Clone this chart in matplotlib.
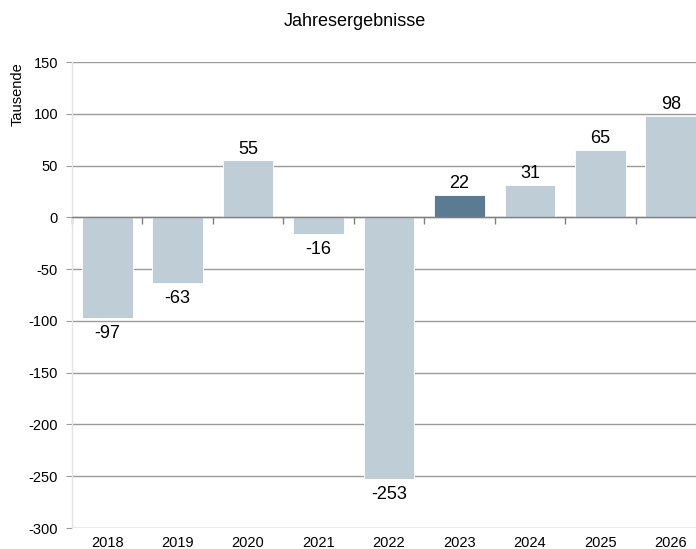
import matplotlib
matplotlib.use("Agg")
import matplotlib.pyplot as plt
import numpy as np

years = ["2018", "2019", "2020", "2021", "2022", "2023", "2024", "2025", "2026"]
values = [-97, -63, 55, -16, -253, 22, 31, 65, 98]
highlight = "2023"
yticks = [150, 100, 50, 0, -50, -100, -150, -200, -250, -300]

plt.rcParams['font.family'] = ['Liberation Sans', 'DejaVu Sans']

W, H = 696, 549
fig = plt.figure(figsize=(W / 100, H / 100), dpi=100)
left, right, top, bottom = 72, 706, 62, 528
ax = fig.add_axes([left / W, (H - bottom) / H, (right - left) / W, (bottom - top) / H])

light = "#bfcdd6"
dark = "#5b7b92"
x = np.arange(len(years))
colors = [dark if y == highlight else light for y in years]
ax.bar(x, values, width=0.72, color=colors, edgecolor="white", linewidth=0.6, zorder=3)

ax.set_xlim(-0.5, len(years) - 0.5)
ax.set_ylim(-300, 150)
ax.set_yticks(yticks)
ax.set_yticklabels([str(t) for t in yticks])
ax.yaxis.grid(True, color="#9a9a9a", linewidth=1.0, zorder=0)
ax.tick_params(axis="y", length=4, color="#9a9a9a", labelsize=10.5, pad=6)

# main x axis: zero line with boundary ticks pointing down
ax.spines["bottom"].set_position(("data", 0))
ax.spines["bottom"].set_color("#808080")
ax.spines["bottom"].set_linewidth(1.0)
ax.spines["bottom"].set_zorder(4)
ax.set_xticks(np.arange(len(years) + 1) - 0.5)
ax.set_xticklabels([])
ax.tick_params(axis="x", direction="out", length=5, color="#808080", width=1.0)

for s in ["top", "right"]:
    ax.spines[s].set_visible(False)
ax.spines["left"].set_color("#e4e4e4")
ax.spines["left"].set_linewidth(1.0)

# category labels at the bottom
sec = ax.secondary_xaxis("bottom")
sec.set_xticks(x)
sec.set_xticklabels(years)
sec.tick_params(axis="x", length=0, labelsize=10.5, pad=6)
for s in sec.spines.values():
    s.set_visible(False)

for xi, v in zip(x, values):
    if v >= 0:
        ax.annotate(str(v), (xi, v), xytext=(0, 2), textcoords="offset points",
                    ha="center", va="bottom", fontsize=13, zorder=5)
    else:
        ax.annotate(str(v), (xi, v), xytext=(0, -5), textcoords="offset points",
                    ha="center", va="top", fontsize=13, zorder=5)

ax.set_ylabel("Tausende", fontsize=10.5, loc="top")
ax.yaxis.set_label_coords(-(72 - 25) / (right - left), 1.0)
fig.text(355 / W, 1 - 22 / H, "Jahresergebnisse", ha="center", va="center", fontsize=13)

fig.savefig("out.png", dpi=100)
